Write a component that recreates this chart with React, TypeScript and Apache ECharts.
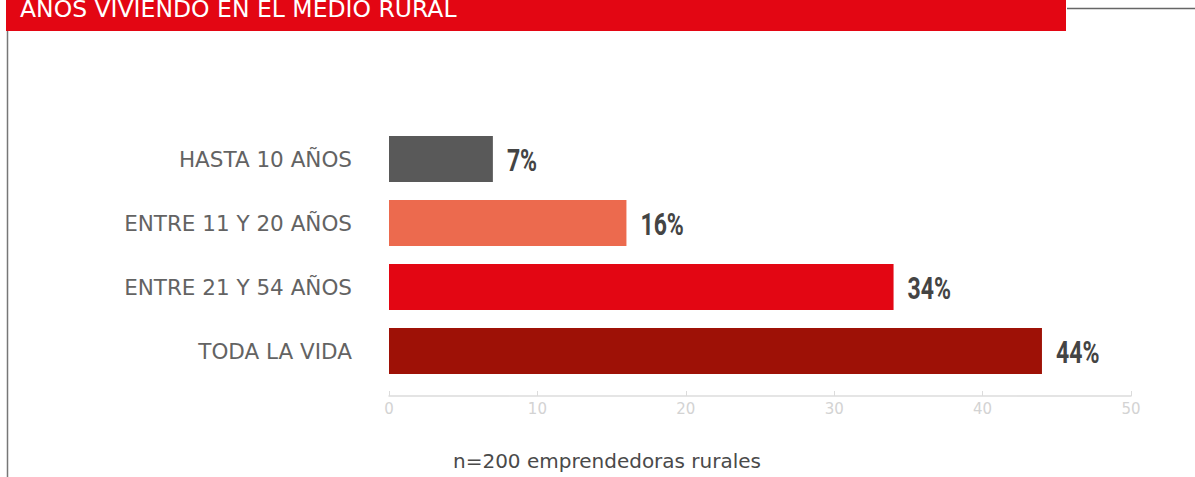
import React, { useEffect, useRef } from "react";
import * as echarts from "echarts";

const title = "AÑOS VIVIENDO EN EL MEDIO RURAL";
const categories = ["HASTA 10 AÑOS", "ENTRE 11 Y 20 AÑOS", "ENTRE 21 Y 54 AÑOS", "TODA LA VIDA"];
const values = [7, 16, 34, 44];
const barColors = ["#595959", "#EC6A4E", "#E30613", "#9E1106"];
const axisTicks = [0, 10, 20, 30, 40, 50];
const footnote = "n=200 emprendedoras rurales";

export default function App() {
  const ref = useRef<HTMLDivElement>(null);
  useEffect(() => {
    const chart = echarts.init(ref.current!, null, { renderer: "svg" });
    chart.setOption({
      animation: false,
      grid: { left: 389, right: 64, top: 127, height: 256, containLabel: false },
      xAxis: {
        type: "value",
        min: axisTicks[0],
        max: axisTicks[axisTicks.length - 1],
        interval: 10,
        offset: 13,
        axisLine: { show: true, lineStyle: { color: "#dcdcdc", width: 1.5 } },
        axisTick: { show: true, inside: true, length: 5, lineStyle: { color: "#dcdcdc" } },
        splitLine: { show: false },
        axisLabel: { color: "#d3d3d3", fontSize: 15, fontFamily: "DejaVu Sans", margin: 5 },
      },
      yAxis: {
        type: "category",
        data: categories,
        inverse: true,
        axisLine: { show: false },
        axisTick: { show: false },
        axisLabel: { color: "#636363", fontSize: 21.5, fontFamily: "DejaVu Sans", margin: 37 },
      },
      series: [
        {
          type: "bar",
          data: values.map((v, i) => ({ value: v, itemStyle: { color: barColors[i] } })),
          barWidth: 46,
        },
        {
          type: "custom",
          data: values.map((v, i) => [v, i]),
          encode: { x: 0, y: 1 },
          renderItem: (params: any, api: any) => {
            const p = api.coord([api.value(0), api.value(1)]);
            return {
              type: "text",
              x: p[0] + 14,
              y: p[1] + 1.5,
              scaleX: 0.72,
              style: {
                text: api.value(0) + "%",
                fill: "#444",
                fontSize: 32,
                fontWeight: "bold",
                fontFamily: "Roboto",
                align: "left",
                verticalAlign: "middle",
              },
            };
          },
        },
      ],
      graphic: [
        { type: "rect", shape: { x: 6, y: 0, width: 1060, height: 31 }, style: { fill: "#E30613" } },
        { type: "line", shape: { x1: 1067, y1: 8.5, x2: 1195, y2: 8.5 }, style: { stroke: "#666", lineWidth: 1.5 } },
        { type: "line", shape: { x1: 7.5, y1: 31, x2: 7.5, y2: 477 }, style: { stroke: "#777", lineWidth: 1.5 } },
        {
          type: "text",
          x: 20,
          y: 9,
          style: {
            text: title,
            fill: "#fff",
            fontSize: 23.5,
            fontFamily: "DejaVu Sans",
            align: "left",
            verticalAlign: "middle",
          },
        },
        {
          type: "text",
          x: 607,
          y: 461,
          style: {
            text: footnote,
            fill: "#4a4a4a",
            fontSize: 20,
            fontFamily: "DejaVu Sans",
            align: "center",
            verticalAlign: "middle",
          },
        },
      ],
    });
    return () => chart.dispose();
  }, []);
  return <div ref={ref} style={{ position: "absolute", left: 0, top: 0, width: 1195, height: 477 }} />;
}
